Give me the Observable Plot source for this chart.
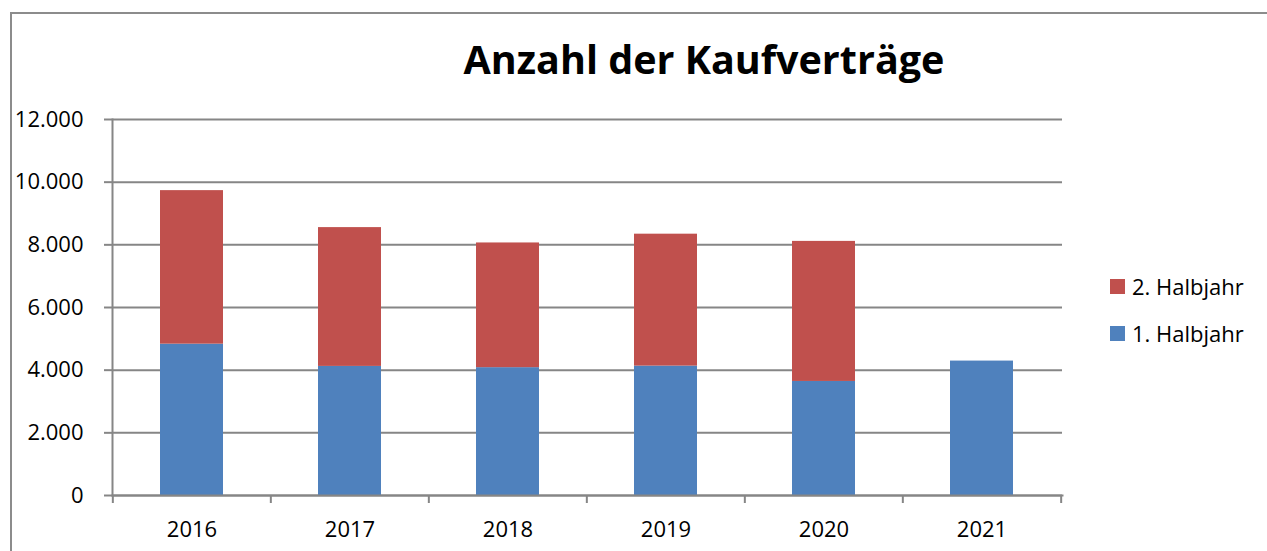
<!DOCTYPE html>
<html>
<head>
<meta charset="utf-8">
<script src="https://cdn.jsdelivr.net/npm/d3@7"></script>
<script src="https://cdn.jsdelivr.net/npm/@observablehq/plot@0.6"></script>
<style>
  html, body { margin: 0; padding: 0; background: #fff; }
  #wrap { position: relative; width: 1267px; height: 551px; overflow: hidden; font-family: "Open Sans", sans-serif; }
  #border { position: absolute; left: 10px; top: 12px; right: -2px; bottom: -2px; border-top: 2px solid #8c8c8c; border-left: 2px solid #8c8c8c; }
  #title { position: absolute; left: 112px; width: 1184px; top: 32px; text-align: center; font-size: 39.5px; font-weight: 700; color: #000; white-space: nowrap; }
  #legend { position: absolute; left: 1110px; top: 270px; font-size: 22px; color: #000; }
  .item { display: flex; align-items: center; height: 32px; margin-bottom: 15px; }
  .sw { width: 15px; height: 15px; margin-right: 7px; }
  #chart { position: absolute; left: 0; top: 0; }
</style>
</head>
<body>
<div id="wrap">
  <div id="border"></div>
  <div id="title"></div>
  <div id="legend"></div>
  <div id="chart"></div>
</div>
<script>
const title = "Anzahl der Kaufverträge";
const years = ["2016", "2017", "2018", "2019", "2020", "2021"];
const half1 = [4830, 4120, 4080, 4130, 3640, 4290];
const half2 = [4900, 4430, 3980, 4210, 4470, 0];
const seriesNames = ["1. Halbjahr", "2. Halbjahr"];
const seriesColors = ["#4F81BD", "#C0504D"];
const yTicks = [0, 2000, 4000, 6000, 8000, 10000, 12000];

const rows = [];
years.forEach((y, i) => {
  rows.push({year: y, series: seriesNames[0], value: half1[i]});
  if (half2[i] > 0) rows.push({year: y, series: seriesNames[1], value: half2[i]});
});

const de = d3.formatLocale({decimal: ",", thousands: ".", grouping: [3], currency: ["", " €"]});
const fmt = de.format(",");

const W = 1267, H = 551;
const mL = 112, mR = 205, mT = 119, mB = 56;
const step = (W - mL - mR) / years.length;

const chart = Plot.plot({
  width: W,
  height: H,
  marginLeft: mL,
  marginRight: mR,
  marginTop: mT,
  marginBottom: mB,
  style: {fontFamily: "'Open Sans', sans-serif", fontSize: "22px", color: "#000", background: "transparent"},
  x: {domain: years, paddingInner: 0.6, paddingOuter: 0.3, label: null},
  y: {domain: [0, 12000], label: null},
  color: {domain: seriesNames, range: seriesColors},
  marks: [
    Plot.gridY(yTicks, {stroke: "#868686", strokeOpacity: 1, strokeWidth: 2}),
    Plot.barY(rows, Plot.stackY({x: "year", y: "value", fill: "series", order: seriesNames})),
    Plot.axisY(yTicks, {tickSize: 8, tickPadding: 21, tickFormat: fmt, stroke: "#868686", strokeWidth: 2, fill: "#000", fontSize: 22, label: null}),
    Plot.axisX({tickSize: 0, tickPadding: 26, fill: "#000", fontSize: 22, label: null}),
    Plot.axisX({tickSize: 8, tickFormat: () => "", dx: -step / 2, stroke: "#868686", strokeWidth: 2, label: null}),
    Plot.axisX([years[years.length - 1]], {tickSize: 8, tickFormat: () => "", dx: step / 2, stroke: "#868686", strokeWidth: 2, label: null}),
    Plot.frame({anchor: "left", stroke: "#868686", strokeWidth: 2}),
    Plot.frame({anchor: "bottom", stroke: "#868686", strokeWidth: 2})
  ]
});
document.getElementById("chart").appendChild(chart);

document.getElementById("title").textContent = title;
const legend = document.getElementById("legend");
[1, 0].forEach(i => {
  const it = document.createElement("div");
  it.className = "item";
  const sw = document.createElement("div");
  sw.className = "sw";
  sw.style.background = seriesColors[i];
  const tx = document.createElement("span");
  tx.textContent = seriesNames[i];
  it.appendChild(sw); it.appendChild(tx);
  legend.appendChild(it);
});
</script>
</body>
</html>
